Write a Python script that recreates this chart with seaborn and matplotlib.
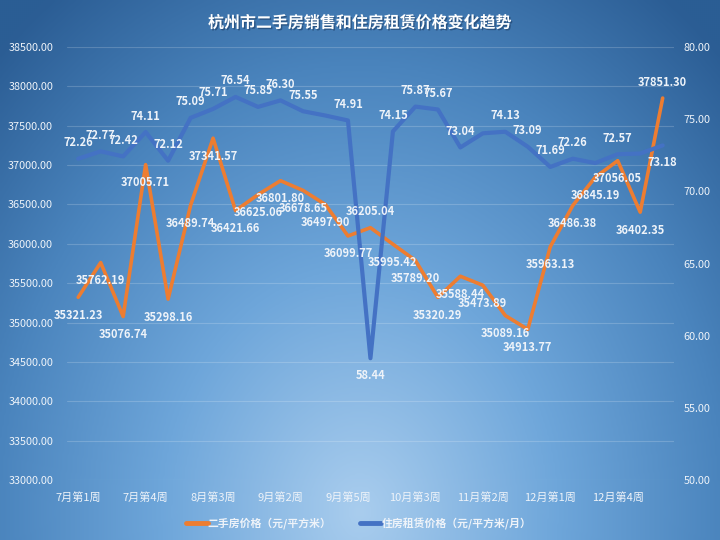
import numpy as np
import pandas as pd
import seaborn as sns
import matplotlib.pyplot as plt
import matplotlib.patheffects as pe
from matplotlib.colors import LinearSegmentedColormap

# weekly series, 7月第1周 .. 1月第1周
weeks = ["7月第1周", "7月第2周", "7月第3周", "7月第4周",
         "8月第1周", "8月第2周", "8月第3周", "8月第4周",
         "9月第1周", "9月第2周", "9月第3周", "9月第4周", "9月第5周",
         "10月第1周", "10月第2周", "10月第3周", "10月第4周",
         "11月第1周", "11月第2周", "11月第3周", "11月第4周",
         "12月第1周", "12月第2周", "12月第3周", "12月第4周", "12月第5周",
         "1月第1周"]

sale_price = [35321.23, 35762.19, 35076.74, 37005.71, 35298.16, 36489.74,
              37341.57, 36421.66, 36625.06, 36801.80, 36678.65, 36497.90,
              36099.77, 36205.04, 35995.42, 35789.20, 35320.29, 35588.44,
              35473.89, 35089.16, 34913.77, 35963.13, 36486.38, 36845.19,
              37056.05, 36402.35, 37851.30]

rent_price = [72.26, 72.77, 72.42, 74.11, 72.12, 75.09, 75.71, 76.54, 75.85,
              76.30, 75.55, 75.25, 74.91, 58.44, 74.15, 75.87, 75.67, 73.04,
              74.02, 74.13, 73.09, 71.69, 72.26, 71.96, 72.57, 72.62, 73.18]

# which rent points carry a label (some hidden in the original)
rent_labeled = [True] * 11 + [False] + [True] * 6 + [False] + [True] * 4 + [False, True, False, True]

sale_name = "二手房价格（元/平方米）"
rent_name = "住房租赁价格（元/平方米/月）"
title = "杭州市二手房销售和住房租赁价格变化趋势"

df = pd.DataFrame({"idx": range(len(weeks)), "week": weeks,
                   "sale": sale_price, "rent": rent_price})

# label placement: below the point unless listed here
sale_above = {13, 26}
rent_below = {13, 26}

ORANGE = "#ED7D31"
BLUE = "#4472C4"
TXT = "#eef3f9"

sns.set_style("white")
plt.rcParams["font.family"] = ["Noto Sans CJK SC", "DejaVu Sans"]

fig = plt.figure(figsize=(7.2, 5.4), dpi=100)

# background radial gradient
bg = fig.add_axes([0, 0, 1, 1], zorder=-10)
u, v = np.meshgrid(np.linspace(0, 1, 360), np.linspace(0, 1, 270))
d = np.sqrt(((u - 0.5) / 0.58) ** 2 + ((v - 0.95) / 0.95) ** 2)
cmap = LinearSegmentedColormap.from_list(
    "bg", [(0, "#a9cdee"), (0.38, "#6ea6da"), (0.7, "#4a84bd"), (1.0, "#2b5d94")])
bg.imshow(np.clip(d / 1.25, 0, 1), cmap=cmap, aspect="auto", extent=[0, 1, 0, 1],
          vmin=0, vmax=1, interpolation="bicubic")
bg.axis("off")

ax = fig.add_axes([0.093, 0.111, 0.843, 0.802])
ax.patch.set_alpha(0)
ax2 = ax.twinx()
ax2.patch.set_alpha(0)

sns.lineplot(data=df, x="idx", y="sale", ax=ax, color=ORANGE, linewidth=2.6,
             label=sale_name, legend=False)
sns.lineplot(data=df, x="idx", y="rent", ax=ax2, color=BLUE, linewidth=3.0,
             label=rent_name, legend=False)

ax.set_xlim(-0.5, len(weeks) - 0.5)
ax.set_ylim(33000, 38500)
ax.set_yticks(np.arange(33000, 38501, 500))
ax.set_yticklabels([f"{t:.2f}" for t in np.arange(33000, 38501, 500)])
ax2.set_ylim(50, 80)
ax2.set_yticks(np.arange(50, 81, 5))
ax2.set_yticklabels([f"{t:.2f}" for t in np.arange(50, 81, 5)])
ax.set_xticks(range(0, len(weeks), 3))
ax.set_xticklabels(weeks[::3])
ax.set_xlabel("")
ax.set_ylabel("")
ax2.set_ylabel("")

ax.grid(axis="y", color="white", alpha=0.18, linewidth=0.8)
ax.grid(axis="x", visible=False)
ax2.grid(False)
for a in (ax, ax2):
    for s in a.spines.values():
        s.set_visible(False)
ax.tick_params(axis="y", length=0, pad=10, labelsize=7.8, labelcolor=TXT)
ax.tick_params(axis="x", length=0, pad=9, labelsize=8, labelcolor=TXT)
ax2.tick_params(axis="y", length=0, pad=7, labelsize=7.8, labelcolor=TXT)

# all data labels live on ax2 so they sit above both lines
for i, val in enumerate(sale_price):
    dy = 16 if i in sale_above else -18
    ax2.annotate(f"{val:.2f}", (i, val), xycoords=ax.transData,
                 xytext=(0, dy), textcoords="offset pixels",
                 ha="center", va="center", fontsize=8, fontweight="bold",
                 color=TXT, zorder=5, annotation_clip=False)
for i, val in enumerate(rent_price):
    if not rent_labeled[i]:
        continue
    dy = -17 if i in rent_below else 16
    ax2.annotate(f"{val:.2f}", (i, val), xytext=(0, dy), textcoords="offset pixels",
                 ha="center", va="center", fontsize=8, fontweight="bold",
                 color=TXT, zorder=5, annotation_clip=False)

fig.text(0.5, 0.958, title, ha="center", va="center", fontsize=11.5,
         fontweight="bold", color="white",
         path_effects=[pe.withSimplePatchShadow(offset=(1, -1), shadow_rgbFace="#1c3d66", alpha=0.6)])

h1, l1 = ax.get_legend_handles_labels()
h2, l2 = ax2.get_legend_handles_labels()
leg = fig.legend(h1 + h2, l1 + l2, loc="center", bbox_to_anchor=(0.498, 0.031),
                 ncol=2, frameon=False, handlelength=2.0, columnspacing=2.6,
                 handletextpad=0.0, prop={"size": 7.8, "weight": "bold"})
for t in leg.get_texts():
    t.set_color(TXT)
for line in leg.get_lines():
    line.set_linewidth(3.5)

fig.savefig("out.png", dpi=100)
